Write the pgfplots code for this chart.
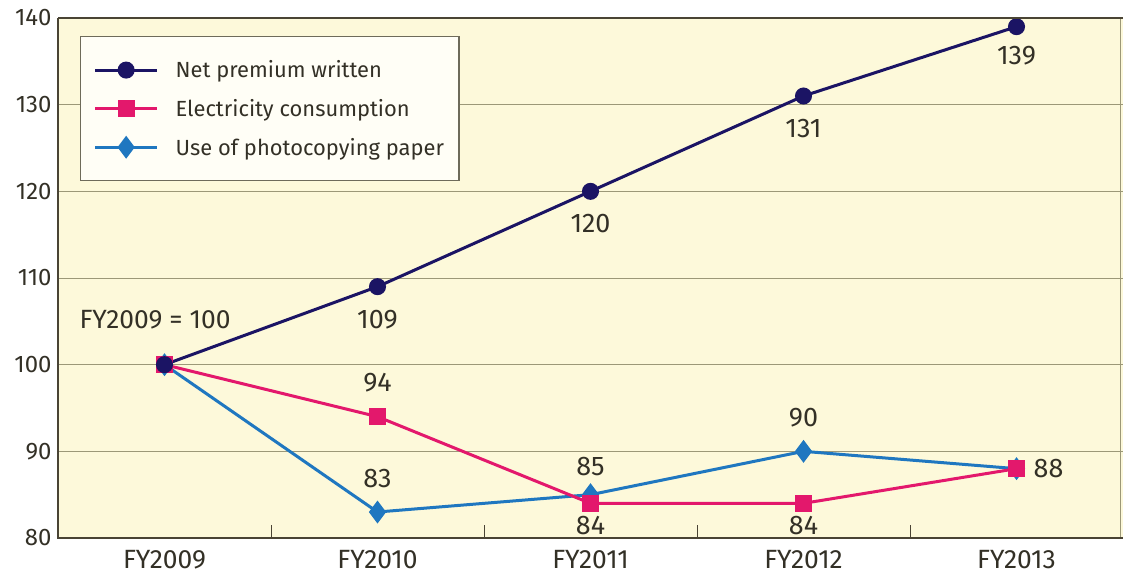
\documentclass[border=0pt]{standalone}
\usepackage{pgfplots}
\pgfplotsset{compat=1.18}
\usepackage{fontspec}
\setmainfont{Fira Sans}
\definecolor{bg}{HTML}{FDF9DA}
\definecolor{netc}{HTML}{1B1464}
\definecolor{elc}{HTML}{E3186C}
\definecolor{papc}{HTML}{1F77C0}
\definecolor{gridc}{HTML}{9C9878}
\definecolor{axc}{HTML}{4A4434}
\definecolor{txt}{HTML}{333026}
\definecolor{legfill}{HTML}{FFFEF6}
\definecolor{legdraw}{HTML}{6E6B5A}
\begin{document}
\begin{tikzpicture}
\begin{axis}[
  scale only axis, width=1065bp, height=520bp,
  xmin=-0.5, xmax=4.5, ymin=80, ymax=140,
  xtick={0,1,2,3,4},
  xticklabels={FY2009,FY2010,FY2011,FY2012,FY2013},
  ytick={80,90,100,110,120,130,140},
  extra x ticks={0.5,1.5,2.5,3.5},
  extra x tick labels={},
  extra x tick style={major tick length=13bp, tick align=inside, tick style={draw=axc, line width=1bp}, xtick pos=bottom},
  major tick length=0pt,
  axis background/.style={fill=bg},
  ymajorgrids, grid style={gridc, line width=1bp},
  axis line style={draw=none},
  yticklabel style={font=\fontsize{24}{27}\selectfont, text=txt, xshift=-3bp},
  xticklabel style={font=\fontsize{26.5}{29}\selectfont, text=txt, yshift=-9bp},
  /pgf/number format/assume math mode=true,
  clip=false,
  legend image code/.code={\draw[mark repeat=2,mark phase=2] plot coordinates {(0bp,0bp)(31bp,0bp)(62bp,0bp)};},
  legend style={at={(0.0207,0.965)}, anchor=north west, draw=legdraw, fill=legfill, line width=1.2bp,
    font=\fontsize{22}{25}\selectfont, text=txt, inner xsep=13bp, inner ysep=22bp,
    row sep=16bp, column sep=15bp, cells={anchor=west}},
  legend cell align=left,
]
\coordinate (A) at (rel axis cs:0,0);
\coordinate (B) at (rel axis cs:1,1);
\coordinate (R) at (rel axis cs:0.998,0);
\addlegendimage{netc, line width=3bp, mark=*, mark size=7bp}
\addlegendentry{Net premium written}
\addlegendimage{elc, line width=3bp, mark=square*, mark size=7bp}
\addlegendentry{Electricity consumption}
\addlegendimage{papc, line width=3bp, mark=diamond*, mark size=9bp}
\addlegendentry{Use of photocopying paper}
\addplot[papc, line width=3bp, mark=diamond*, mark size=9bp, forget plot] coordinates {(0,100)(1,83)(2,85)(3,90)(4,88)};
\addplot[elc, line width=3bp, mark=square*, mark size=7bp, forget plot] coordinates {(0,100)(1,94)(2,84)(3,84)(4,88)};
\addplot[netc, line width=3bp, mark=*, mark size=7bp, forget plot] coordinates {(0,100)(1,109)(2,120)(3,131)(4,139)};
\begin{scope}[every node/.style={font=\fontsize{27}{30}\selectfont, text=txt, inner sep=0pt}]
\node[anchor=north] at ([yshift=-23bp]axis cs:1,109) {109};
\node[anchor=north] at ([yshift=-23bp]axis cs:2,120) {120};
\node[anchor=north] at ([yshift=-23bp]axis cs:3,131) {131};
\node[anchor=north] at ([yshift=-19bp]axis cs:4,139) {139};
\node[anchor=south] at ([yshift=24bp]axis cs:1,94) {94};
\node[anchor=north] at ([yshift=-13bp]axis cs:2,84) {84};
\node[anchor=north] at ([yshift=-13bp]axis cs:3,84) {84};
\node[anchor=west] at ([xshift=17bp]axis cs:4,88) {88};
\node[anchor=south] at ([yshift=24bp]axis cs:1,83) {83};
\node[anchor=south] at ([yshift=19bp]axis cs:2,85) {85};
\node[anchor=south] at ([yshift=24bp]axis cs:3,90) {90};
\node[anchor=west, font=\fontsize{26.5}{29}\selectfont] at ([yshift=45bp]axis cs:-0.4,100) {FY2009 = 100};
\end{scope}
\end{axis}
\draw[gridc, line width=1.2bp] (R) -- (R|-B);
\draw[axc, line width=1.5bp] (A|-B) -- (A) -- (B|-A);
\draw[axc, line width=1.5bp] (A|-B) -- (B);
\pgfresetboundingbox
\path ([shift={(-58bp,-41bp)}]A) rectangle ([shift={(0bp,18bp)}]B);
\end{tikzpicture}
\end{document}
